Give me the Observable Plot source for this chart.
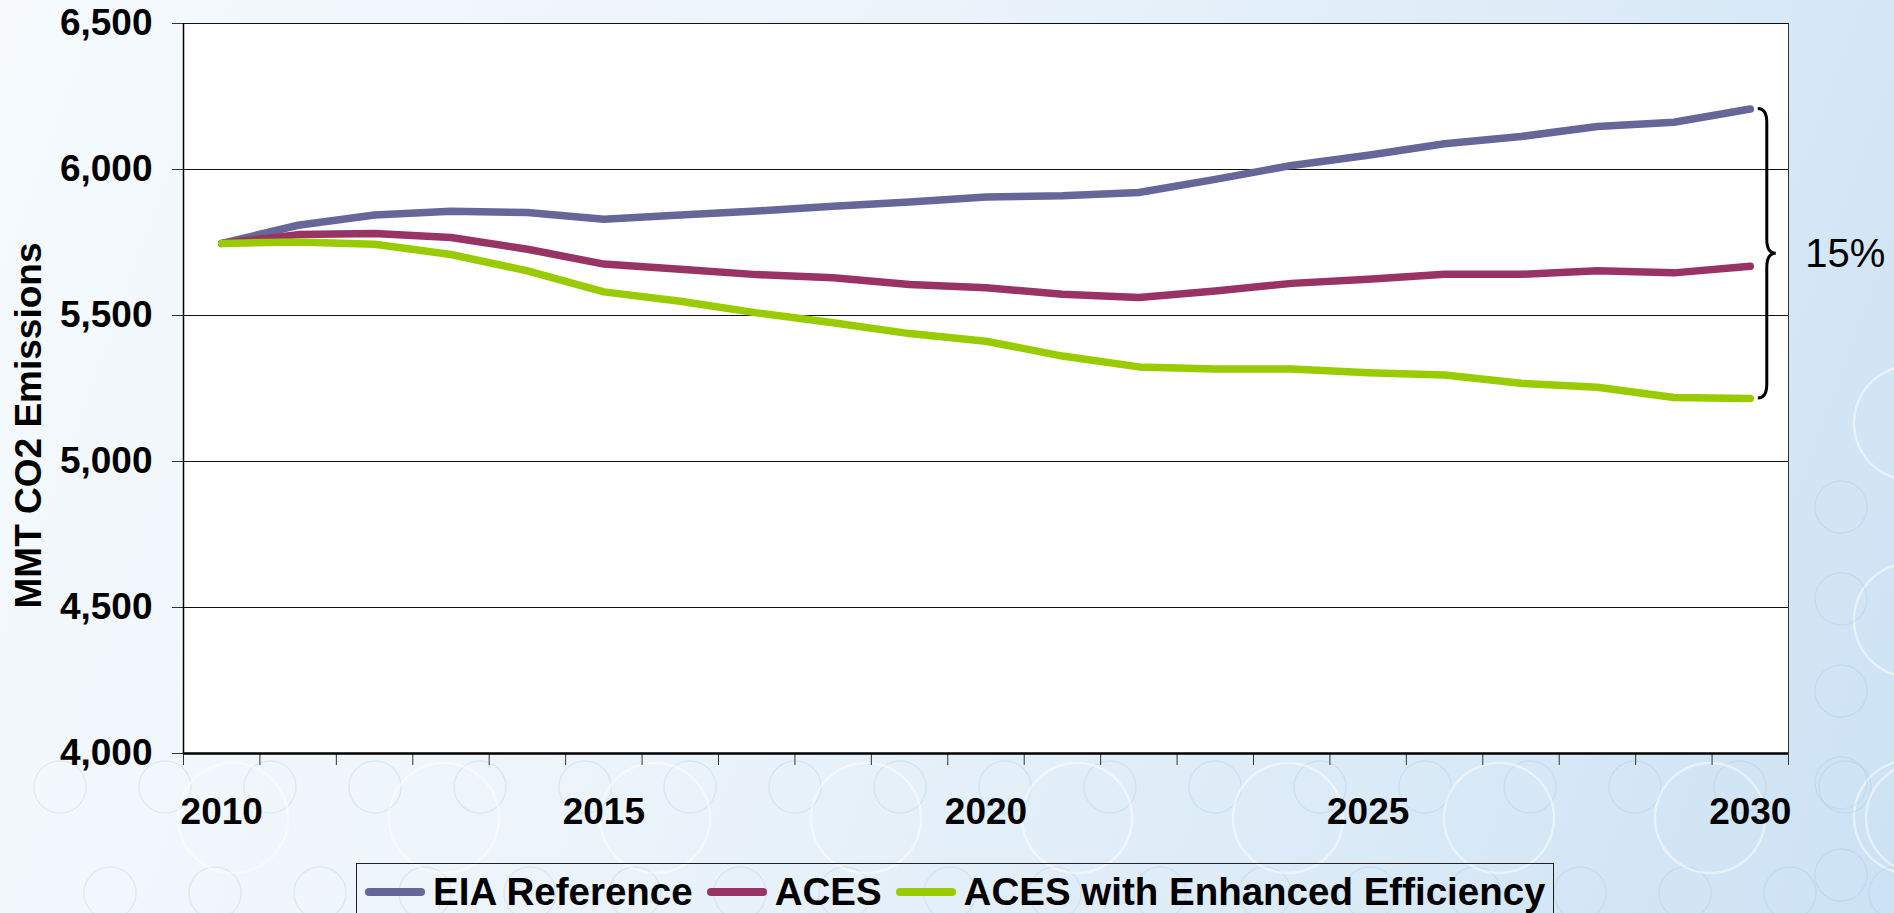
<!DOCTYPE html>
<html>
<head>
<meta charset="utf-8">
<script src="https://cdn.jsdelivr.net/npm/d3@7"></script>
<script src="https://cdn.jsdelivr.net/npm/@observablehq/plot@0.6"></script>
<style>
  html, body { margin: 0; padding: 0; }
  body {
    width: 1894px; height: 913px; overflow: hidden;
    font-family: "Liberation Sans", Arial, sans-serif;
  }
  #wrap { position: relative; width: 1894px; height: 913px; }
  #bg { position: absolute; left: 0; top: 0; width: 1894px; height: 913px; }
  #chart { position: absolute; left: 0; top: 0; }
  #legend {
    position: absolute; left: 356px; top: 863px; width: 1198px; height: 58px;
    box-sizing: border-box; border: 1.5px solid #222;
    display: flex; align-items: center; padding-left: 8px;
    font: bold 38.5px "Liberation Sans", Arial, sans-serif; line-height: 1; color: #000;
    white-space: nowrap;
  }
  .sw { display: inline-block; width: 60px; height: 8px; border-radius: 4px; margin-right: 8px; }
  .item { display: flex; align-items: center; margin-right: 14px; }
</style>
</head>
<body>
<div id="wrap">
  <div id="bg"></div>
  <div id="chart"></div>
  <div id="legend"></div>
</div>
<script>
// ---- data ----
const years = [2010, 2011, 2012, 2013, 2014, 2015, 2016, 2017, 2018, 2019, 2020,
               2021, 2022, 2023, 2024, 2025, 2026, 2027, 2028, 2029, 2030];
const eiaReference = [5747, 5809, 5844, 5857, 5853, 5830, 5844, 5858, 5874, 5889, 5906,
                      5910, 5921, 5966, 6014, 6049, 6088, 6113, 6147, 6162, 6207];
const aces = [5747, 5777, 5781, 5767, 5727, 5676, 5658, 5640, 5629, 5606, 5595,
              5573, 5562, 5584, 5610, 5624, 5641, 5641, 5653, 5646, 5669];
const acesEnhanced = [5747, 5752, 5744, 5709, 5653, 5581, 5549, 5509, 5475, 5438, 5412,
                      5361, 5324, 5317, 5317, 5304, 5296, 5268, 5254, 5219, 5216];
const seriesNames = ["EIA Reference", "ACES", "ACES with Enhanced Efficiency"];
const seriesColors = ["#666699", "#993366", "#99cc00"];
const yTicks = [4000, 4500, 5000, 5500, 6000, 6500];
const xLabelTicks = [2010, 2015, 2020, 2025, 2030];
const yTitle = "MMT CO2 Emissions";
const gapLabel = "15%";

// ---- decorative slide background (faint rings on a light-blue gradient) ----
(function () {
  const layers = [];
  const ring = (cx, cy, r, col, w) =>
    `radial-gradient(circle at ${cx}px ${cy}px, transparent ${r - w}px, ${col} ${r - w + 0.8}px, ${col} ${r + w - 0.8}px, transparent ${r + w}px)`;
  const white = "rgba(255,255,255,0.5)", blue = "rgba(150,185,215,0.22)";
  for (let k = 0; k < 9; k++) layers.push(ring(233 + 211 * k, 818, 55, white, 1.6));
  for (let k = 0; k < 18; k++) layers.push(ring(60 + 105 * k, 787, 26, blue, 1.1));
  for (let k = 0; k < 18; k++) layers.push(ring(110 + 105 * k, 893, 26, blue, 1.1));
  for (let k = 0; k < 5; k++) layers.push(ring(1841, 507 + 92 * k, 26, blue, 1.1));
  for (let k = 0; k < 3; k++) layers.push(ring(1911, 423 + 197 * k, 57, white, 1.6));
  layers.push("linear-gradient(110deg, #f6fafd 0%, #ecf4fb 40%, #dcebf7 72%, #cce2f4 100%)");
  document.getElementById("bg").style.backgroundImage = layers.join(",");
})();

// ---- derived tables ----
const seriesValues = [eiaReference, aces, acesEnhanced];
const rows = [];
seriesNames.forEach((name, s) => {
  years.forEach((yr, i) => rows.push({year: yr, value: seriesValues[s][i], series: name}));
});
const firstYear = years[0], lastYear = years[years.length - 1];
const boundaries = years.map(y => y - 0.5).concat([lastYear + 0.5]);
const topEnd = eiaReference[eiaReference.length - 1];
const botEnd = acesEnhanced[acesEnhanced.length - 1];

// brace mark drawn with the plot's scales
function braceMark(index, scales) {
  const ns = "http://www.w3.org/2000/svg";
  const xe = scales.x(lastYear);
  const yT = scales.y(topEnd), yB = scales.y(botEnd), yM = (yT + yB) / 2;
  const x0 = xe + 8, xs = xe + 17, xt = xe + 26, r = 14;
  const p = document.createElementNS(ns, "path");
  p.setAttribute("d",
    `M${x0},${yT} Q${xs},${yT} ${xs},${yT + r} L${xs},${yM - r} Q${xs},${yM} ${xt},${yM} ` +
    `Q${xs},${yM} ${xs},${yM + r} L${xs},${yB - r} Q${xs},${yB} ${x0},${yB}`);
  p.setAttribute("fill", "none");
  p.setAttribute("stroke", "#000");
  p.setAttribute("stroke-width", "3");
  return p;
}

const chart = Plot.plot({
  width: 1894,
  height: 863,
  marginLeft: 183,
  marginRight: 106,
  marginTop: 23,
  marginBottom: 110,
  x: {domain: [firstYear - 0.5, lastYear + 0.5], label: null},
  y: {domain: [yTicks[0], yTicks[yTicks.length - 1]], label: null},
  color: {domain: seriesNames, range: seriesColors},
  style: {
    background: "transparent",
    fontFamily: "'Liberation Sans', Arial, sans-serif",
    fontSize: "37px",
    fontWeight: "bold",
    color: "#000",
    overflow: "visible"
  },
  marks: [
    Plot.frame({fill: "white", stroke: null}),
    Plot.gridY(yTicks.slice(1), {stroke: "#111", strokeOpacity: 1, strokeWidth: 1}),
    Plot.ruleX([lastYear + 0.5], {stroke: "#333", strokeWidth: 1}),
    Plot.axisY(yTicks, {tickFormat: d3.format(","), tickSize: 11, tickPadding: 20, label: null, stroke: "#333"}),
    Plot.axisX(boundaries, {tickSize: 12, tickFormat: () => "", label: null, stroke: "#333"}),
    Plot.axisX(xLabelTicks, {tickSize: 0, tickPadding: 44, tickFormat: d3.format("d"), label: null}),
    Plot.ruleX([firstYear - 0.5], {stroke: "#000", strokeWidth: 1.5}),
    Plot.ruleY([yTicks[0]], {stroke: "#000", strokeWidth: 2.5}),
    Plot.line(rows, {x: "year", y: "value", stroke: "series", strokeWidth: 7.5,
                     strokeLinecap: "round", strokeLinejoin: "round"}),
    braceMark,
    Plot.text([gapLabel], {x: () => lastYear, y: () => (topEnd + botEnd) / 2, dx: 55,
                           textAnchor: "start", fontSize: 40, fontWeight: "normal", fill: "#000"}),
    Plot.text([yTitle], {frameAnchor: "left", textAnchor: "middle", dx: -154, dy: 37, rotate: -90,
                         fontSize: 37, fontWeight: "bold", fill: "#000"})
  ]
});
document.getElementById("chart").appendChild(chart);

// legend
const legend = document.getElementById("legend");
seriesNames.forEach((name, i) => {
  const item = document.createElement("div");
  item.className = "item";
  const sw = document.createElement("span");
  sw.className = "sw";
  sw.style.background = seriesColors[i];
  const t = document.createElement("span");
  t.textContent = name;
  item.appendChild(sw);
  item.appendChild(t);
  legend.appendChild(item);
});
</script>
</body>
</html>
